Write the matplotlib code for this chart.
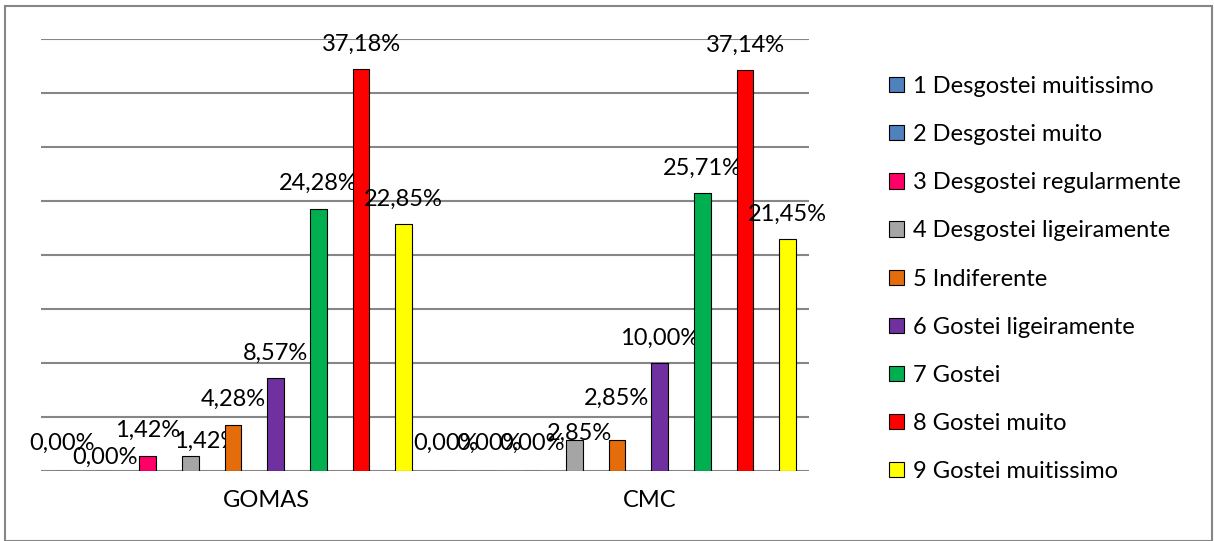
import numpy as np
import matplotlib
matplotlib.use("Agg")
import matplotlib.pyplot as plt
from matplotlib.patches import Rectangle

plt.rcParams['font.family'] = ['Lato', 'DejaVu Sans']

groups = ['GOMAS', 'CMC']
series = ['1 Desgostei muitissimo', '2 Desgostei muito', '3 Desgostei regularmente',
          '4 Desgostei ligeiramente', '5 Indiferente', '6 Gostei ligeiramente',
          '7 Gostei', '8 Gostei muito', '9 Gostei muitissimo']
gomas = [0.00, 0.00, 1.42, 1.42, 4.28, 8.57, 24.28, 37.18, 22.85]
cmc = [0.00, 0.00, 0.00, 2.85, 2.85, 10.00, 25.71, 37.14, 21.45]
colors = ['#4F81BD', '#4F81BD', '#FF0066', '#A5A5A5', '#E46C0A',
          '#7030A0', '#00B050', '#FF0000', '#FFFF00']

# label nudges (points) where labels would collide
nudge_gomas = [(0, 2), (0, -8), (0, 0), (12, -8), (0, 0), (0, 0), (0, 0), (0, 0), (0, 0)]
nudge_cmc = [(0, 2), (0, 2), (0, 2), (4, -13), (0, 12), (0, 0), (0, 0), (0, 0), (0, 0)]

fs = 17
fig = plt.figure(figsize=(12.14, 5.41), dpi=100)
fig.patches.append(Rectangle((5 / 1214, 0), 1207 / 1214, 535 / 541, transform=fig.transFigure,
                             fill=False, edgecolor='#868686', linewidth=1.5))
ax = fig.add_axes([41 / 1214, 70 / 541, 768 / 1214, 432 / 541])

x = np.arange(len(groups))
slot = 1 / len(series)
width = 0.044
data = np.array([gomas, cmc])
for i, name in enumerate(series):
    pos = x + (i - 4) * slot
    bars = ax.bar(pos, data[:, i], width, color=colors[i], edgecolor='black',
                  linewidth=0.8, label=name, zorder=3)
    for j, b in enumerate(bars):
        dx, dy = (nudge_gomas if j == 0 else nudge_cmc)[i]
        ax.annotate(f'{data[j, i]:.2f}%'.replace('.', ','),
                    (b.get_x() + b.get_width() / 2, b.get_height()),
                    xytext=(dx, 18 + dy), textcoords='offset points',
                    ha='center', va='center', fontsize=fs)

ax.set_xlim(-0.5, 1.5)
ax.set_ylim(0, 40)
ax.set_yticks(np.arange(0, 41, 5))
ax.yaxis.grid(True, color='#868686', linewidth=1.5, zorder=0)
ax.set_yticklabels([])
ax.tick_params(length=0)
for s in ax.spines.values():
    s.set_visible(False)

# category names sit a little right of the cluster centres
ax.set_xticks(x + 0.086)
ax.set_xticklabels(groups, fontsize=fs)
ax.tick_params(axis='x', pad=14)

ax.legend(loc='upper left', bbox_to_anchor=(868 / 1214, 0.899), bbox_transform=fig.transFigure,
          frameon=False, fontsize=fs, handlelength=0.62, handleheight=0.62,
          handletextpad=0.4, labelspacing=1.15)

fig.savefig('out.png', dpi=100)
